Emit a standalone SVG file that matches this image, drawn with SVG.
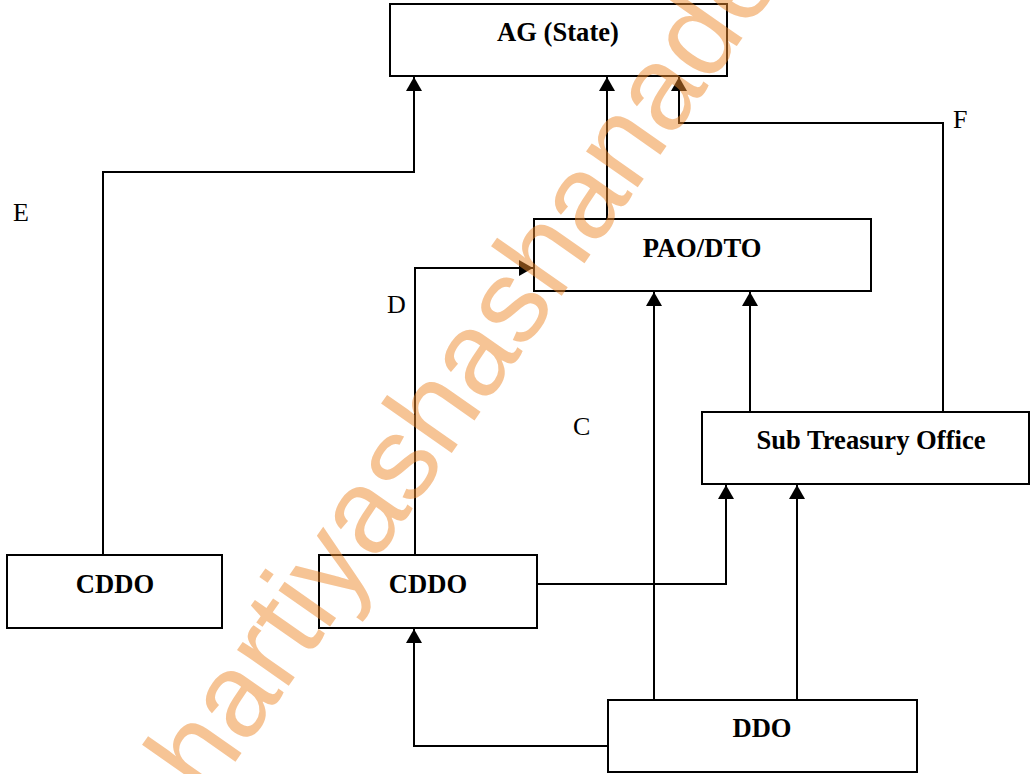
<svg xmlns="http://www.w3.org/2000/svg" width="1031" height="774" viewBox="0 0 1031 774">
<style>
.box{fill:#fff;stroke:#000;stroke-width:2}
.t{font-family:"Liberation Serif",serif;font-size:26.6px;font-weight:bold;text-anchor:middle;fill:#000}
.lbl{font-family:"Liberation Serif",serif;font-size:26px;fill:#000}
.c{fill:none;stroke:#000;stroke-width:2}
.wm{font-family:"Liberation Sans",sans-serif;font-size:119px;fill:#EE8A2E;opacity:0.5}
</style>
<defs>
<marker id="ah" viewBox="0 0 14 16" refX="14" refY="8" markerWidth="14" markerHeight="16" markerUnits="userSpaceOnUse" orient="auto">
<path d="M0,0 L14,8 L0,16 Z" fill="#000"/>
</marker>
</defs>
<rect width="1031" height="774" fill="#fff"/>
<g id="connectors">
<path class="c" d="M103,555 V172 H414 V77" marker-end="url(#ah)"/>
<path class="c" d="M607,219 V77" marker-end="url(#ah)"/>
<path class="c" d="M943,412 V123 H679 V77" marker-end="url(#ah)"/>
<path class="c" d="M415,555 V268 H533" marker-end="url(#ah)"/>
<path class="c" d="M654,700 V292" marker-end="url(#ah)"/>
<path class="c" d="M750,412 V292" marker-end="url(#ah)"/>
<path class="c" d="M537,584 H726 V485" marker-end="url(#ah)"/>
<path class="c" d="M797,700 V485" marker-end="url(#ah)"/>
<path class="c" d="M608,746 H414 V629" marker-end="url(#ah)"/>
</g>
<g id="ag"><rect class="box" x="390" y="4" width="337" height="72"/><text class="t" x="558" y="41">AG (State)</text></g>
<g id="pao"><rect class="box" x="534" y="219" width="337" height="72"/><text class="t" x="702" y="257">PAO/DTO</text></g>
<g id="sto"><rect class="box" x="702" y="412" width="327" height="72"/><text class="t" x="871" y="449">Sub Treasury Office</text></g>
<g id="cddo1"><rect class="box" x="7" y="555" width="215" height="73"/><text class="t" x="115" y="593">CDDO</text></g>
<g id="cddo2"><rect class="box" x="319" y="555" width="218" height="73"/><text class="t" x="428" y="593">CDDO</text></g>
<g id="ddo"><rect class="box" x="608" y="700" width="309" height="72"/><text class="t" x="762" y="737">DDO</text></g>
<g id="labels">
<text class="lbl" x="13" y="221">E</text>
<text class="lbl" x="953" y="128">F</text>
<text class="lbl" x="387" y="313">D</text>
<text class="lbl" x="573" y="435">C</text>
</g>
<text class="wm" transform="translate(208,801) rotate(-55)">hartiyashashanade</text>
</svg>
